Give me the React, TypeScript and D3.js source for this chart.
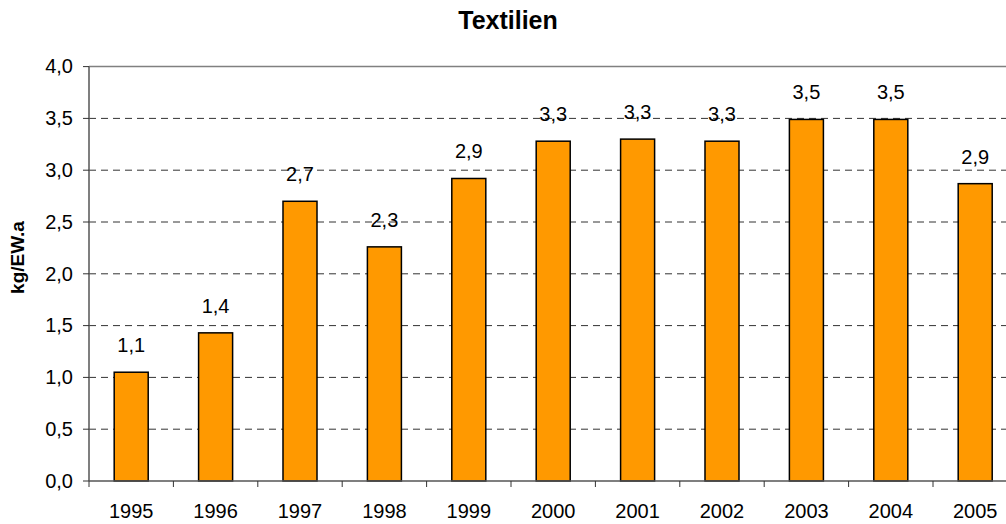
import React from 'react';
import * as d3 from 'd3';

// Textilien, kg per inhabitant and year
const years = ['1995', '1996', '1997', '1998', '1999', '2000', '2001', '2002', '2003', '2004', '2005'];
const values = [1.05, 1.43, 2.7, 2.26, 2.92, 3.28, 3.3, 3.28, 3.49, 3.49, 2.87];
const yTicks = [0, 0.5, 1, 1.5, 2, 2.5, 3, 3.5, 4];

const width = 1006;
const height = 524;
const left = 89;
const top = 66.6;
const bottom = 481;
const step = 84.4;
const right = left + step * years.length;

const comma = (v: number, digits: number) => v.toFixed(digits).replace('.', ',');

export default function App() {
  const x = d3.scaleBand<string>()
    .domain(years)
    .range([left, right])
    .paddingInner(0.597)
    .paddingOuter(0.2985);

  const y = d3.scaleLinear().domain([0, 4]).range([bottom, top]);

  const font = 'Arial, "Liberation Sans", sans-serif';

  return (
    <div style={{ position: 'fixed', left: 0, top: 0 }}>
      <svg width={width} height={height} style={{ display: 'block', background: '#fff' }}>
        <text x={508} y={29} textAnchor="middle" fontFamily={font} fontWeight="bold" fontSize={25}>Textilien</text>

        {/* gridlines */}
        {yTicks.filter(t => t > 0 && t < 4).map(t => (
          <line key={'g' + t} x1={left} x2={width} y1={y(t)} y2={y(t)}
            stroke="#333" strokeWidth={1} strokeDasharray="7,5" />
        ))}
        <line x1={left} x2={width} y1={y(4)} y2={y(4)} stroke="#808080" strokeWidth={1.5} />

        {/* bars */}
        {years.map((yr, i) => (
          <rect key={yr} x={x(yr)} y={y(values[i])} width={x.bandwidth()} height={y(0) - y(values[i])}
            fill="#FF9900" stroke="#000" strokeWidth={1.5} />
        ))}

        {/* data labels */}
        {years.map((yr, i) => (
          <text key={'l' + yr} x={(x(yr) as number) + x.bandwidth() / 2} y={y(values[i]) - 20}
            textAnchor="middle" fontFamily={font} fontSize={20}>{comma(values[i], 1)}</text>
        ))}

        {/* y axis */}
        <line x1={left} x2={left} y1={top} y2={bottom} stroke="#555" strokeWidth={1.5} />
        {yTicks.map(t => (
          <g key={'y' + t}>
            <line x1={left - 6} x2={left} y1={y(t)} y2={y(t)} stroke="#333" strokeWidth={1} />
            <text x={73} y={y(t) + 6.7} textAnchor="end" fontFamily={font} fontSize={20}>{comma(t, 1)}</text>
          </g>
        ))}

        {/* x axis */}
        <line x1={left} x2={width} y1={bottom} y2={bottom} stroke="#555" strokeWidth={1.5} />
        {d3.range(years.length + 1).map(i => (
          <line key={'xt' + i} x1={left + i * step} x2={left + i * step} y1={bottom} y2={bottom + 6}
            stroke="#333" strokeWidth={1} />
        ))}
        {years.map(yr => (
          <text key={'x' + yr} x={(x(yr) as number) + x.bandwidth() / 2} y={518}
            textAnchor="middle" fontFamily={font} fontSize={20}>{yr}</text>
        ))}

        <text transform={`translate(24,257.5) rotate(-90)`} textAnchor="middle" fontFamily={font}
          fontWeight="bold" fontSize={19}>kg/EW.a</text>
      </svg>
    </div>
  );
}
